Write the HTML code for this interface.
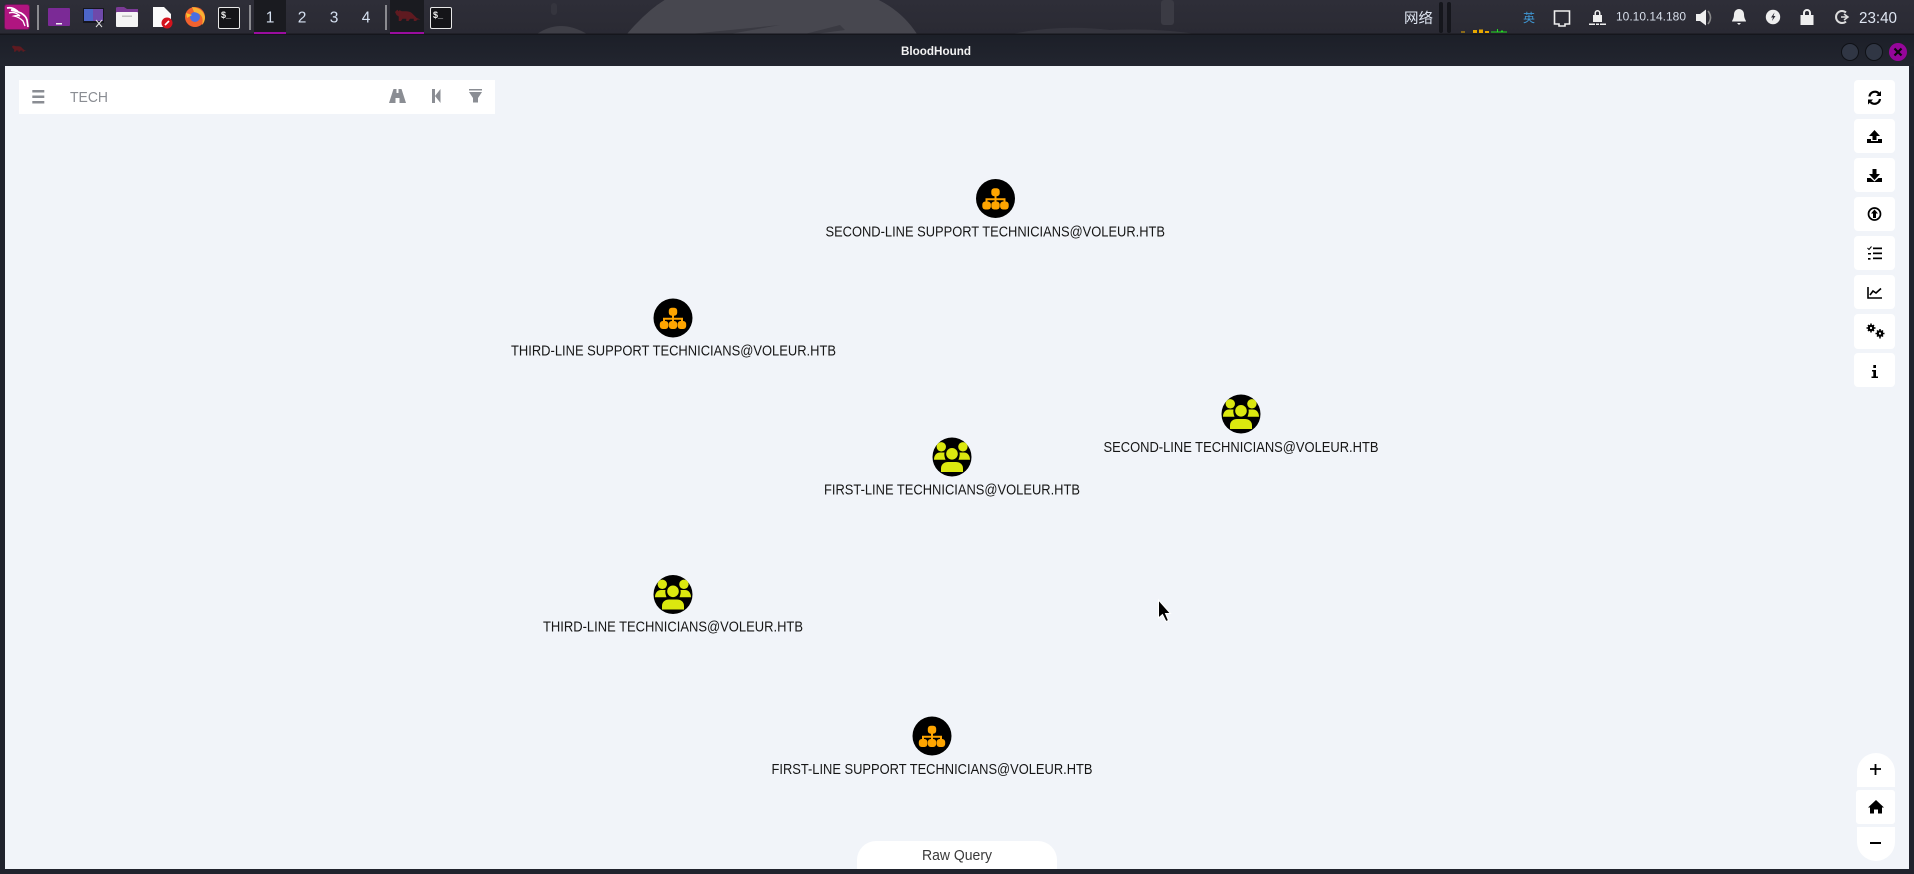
<!DOCTYPE html>
<html><head><meta charset="utf-8"><style>
html,body{margin:0;padding:0;background:#f1f4f9;width:1914px;height:874px;overflow:hidden}
svg{display:block}
text{font-family:"Liberation Sans","Noto Sans CJK SC",sans-serif}
.n{font-size:15px;fill:#161616}
.d{font-size:15.500px;fill:#d5e0f0}
</style></head><body>
<svg width="1914" height="874" viewBox="0 0 1914 874" xmlns="http://www.w3.org/2000/svg">
<defs>
<g id="org"><circle r="19.500" fill="#000"/><g fill="#ffa500"><rect x="-4.200" y="-10.300" width="8.400" height="8" rx="3"/><rect x="-13.200" y="3" width="8.600" height="8" rx="3"/><rect x="-4.200" y="3" width="8.400" height="8" rx="3"/><rect x="4.600" y="3" width="8.600" height="8" rx="3"/><path d="M-1-3H1V-.2H10V4H8V1.800H1V4H-1V1.800H-8V4H-10V-.2H-1z"/></g></g>
<g id="grp"><circle r="19.500" fill="#000"/><g fill="#dbe80f"><circle cx="-10.700" cy="-10.200" r="4.700"/><circle cx="10.900" cy="-10.200" r="4.700"/><path d="M-18 2.700C-18-1.500-15.500-4.500-12-4.500H-7.500C-8-2-7.500 0-6.500 2.700z"/><path d="M18 2.700C18-1.500 15.500-4.500 12-4.500H7.500C8-2 7.500 0 6.500 2.700z"/><circle cy="-3.200" r="5.800"/><path d="M-11 15V11.500C-11 7-7.500 5-4 5H4C7.500 5 11 7 11 11.500V15z"/></g></g>
<g id="bull" fill="#5f1a20"><path d="M0 4L3 1L5 3L6 1.500L9 3H15Q21 3 24 7L29 12L34 14H30L28 16H25V13H20L18 16H15V13H10L8 16H5V10L2 8z"/></g>
<linearGradient id="bar" x1="0" y1="0" x2="0" y2="1"><stop offset="0" stop-color="#2e2e38"/><stop offset="1" stop-color="#2a2a33"/></linearGradient>
<linearGradient id="tb" x1="0" y1="0" x2="0" y2="1"><stop offset="0" stop-color="#1c1f28"/><stop offset="1" stop-color="#22252f"/></linearGradient>
</defs>

<!-- top taskbar -->
<rect width="1914" height="35" fill="url(#bar)"/>
<path d="M627 34Q660 -5 690 -10H850Q895 0 917 34z" fill="#47474f"/>
<path d="M690 34L780 25L730 34zM805 34L840 25L845 30L815 34z" fill="#3a3a42"/>
<path d="M537 34Q560 18 587 34z" fill="#3f3f47"/>
<path d="M1012 34Q1060 24 1110 30Q1160 28 1195 34z" fill="#35353e"/>
<rect x="1161" y="0" width="13" height="25" rx="3" fill="#3b3b44"/>
<rect x="551" y="3" width="6" height="12" rx="3" fill="#35353e"/>
<rect y="33.500" width="1914" height="1.500" fill="#15161c"/>

<!-- kali icon -->
<rect x="4" y="4" width="26" height="26" rx="3" fill="#7a1462" opacity=".7"/>
<rect x="5" y="5" width="24" height="24" rx="2" fill="#b01580"/>
<path d="M7 8Q12 7 16 10L11 10Q16 11 21 13Q26 16 27 20L28 27" fill="none" stroke="#fff" stroke-width="1.700"/>
<path d="M9 13Q15 11 20 16Q17 15 14 16Q19 17 23 21L25 26" fill="none" stroke="#fff" stroke-width="1.300"/>
<rect x="37" y="5" width="2" height="25" fill="#8b8b90"/>
<!-- launcher icons -->
<rect x="48" y="8" width="22" height="18" rx="1" fill="#7b2a96"/><rect x="56" y="23" width="6" height="1.500" fill="#eee"/>
<rect x="83" y="8" width="21" height="15" fill="#16161e"/><rect x="84" y="9" width="19" height="12" fill="#4d66c8"/><rect x="93" y="9" width="10" height="12" fill="#7d3d9c" opacity=".7"/><path d="M96 20L102 27M102 20L96 27" stroke="#ddd" stroke-width="1"/>
<path d="M116 11V8Q116 7 118 7H124L127 9H138V14H116z" fill="#7b3a96"/><rect x="116" y="12" width="22" height="15" rx="1" fill="#f4f4f4"/><rect x="122" y="15.500" width="10" height="1.400" fill="#bbb"/>
<path d="M153 7H164L171 14V27H153z" fill="#fafafa"/><circle cx="167" cy="23" r="5.500" fill="#d3131c"/><path d="M165 25L169 21" stroke="#fff" stroke-width="1.600"/>
<circle cx="195" cy="17" r="10" fill="#f2622e"/><circle cx="195" cy="17" r="5" fill="#4a6ee0"/><path d="M192 7Q203 8 205 17Q205 22 202 25Q205 14 194 12z" fill="#f9b233"/><path d="M186 13L192 15L187 18z" fill="#fbc02d"/>
<rect x="218.500" y="7.500" width="21" height="21" rx="1.500" fill="#141418" stroke="#e8e8e8"/>
<text x="221" y="18" font-size="9" fill="#eee" font-weight="bold">$_</text>
<rect x="249" y="5" width="2" height="25" fill="#8b8b90"/>
<!-- desktops -->
<rect x="254" y="0" width="32" height="34" fill="#1a1b20"/><rect x="254" y="32" width="32" height="2" fill="#9a0d9f"/>
<text x="270" y="22.500" text-anchor="middle" class="d">1</text>
<text x="302" y="22.500" text-anchor="middle" class="d">2</text>
<text x="334" y="22.500" text-anchor="middle" class="d">3</text>
<text x="366" y="22.500" text-anchor="middle" class="d">4</text>
<rect x="385" y="5" width="2" height="25" fill="#8b8b90"/>
<rect x="390" y="0" width="34" height="34" fill="#1a1b20"/><rect x="390" y="32" width="34" height="2" fill="#9a0d9f"/>
<use href="#bull" transform="translate(395,9) scale(.75)"/>
<rect x="430.500" y="7.500" width="21" height="21" rx="1.500" fill="#141418" stroke="#e8e8e8"/>
<text x="433" y="18" font-size="9" fill="#eee" font-weight="bold">$_</text>

<!-- tray -->
<text x="1404" y="23" font-size="14" fill="#dfe6f2" textLength="29" lengthAdjust="spacingAndGlyphs">网络</text>
<rect x="1439" y="2" width="4" height="31" rx="2" fill="#15161c"/>
<rect x="1447" y="2" width="4" height="31" rx="2" fill="#15161c"/>
<g fill="#e8a800"><rect x="1461" y="31.500" width="4" height="1"/><rect x="1473" y="30" width="4" height="3"/><rect x="1479" y="29.500" width="4" height="3.500"/><rect x="1485" y="31" width="4" height="2"/></g>
<path d="M1491 32.500H1507V31.500H1503V30.500H1501V31.500H1498V29H1497V31.500H1491z" fill="#22dd22"/>
<text x="1523" y="22" font-size="12" fill="#3f97d3">英</text>
<path d="M1554.500 11H1569.500V24H1565V26H1559V24H1554.500z" fill="none" stroke="#eee" stroke-width="1.600"/>
<path d="M1594.500 15V13a3 3 0 0 1 6 0V15H1602V22H1593V15zM1596 15H1599V13a1.500 1.500 0 0 0-3 0z" fill="#eee" fill-rule="evenodd"/>
<path d="M1589 23.500h6v1.500h-6zM1596 23.500h3v1.500h-3zM1600 23.500h6v1.500h-6z" fill="#eee"/>
<text x="1616" y="20.500" font-size="11.500" fill="#d8dfeb" textLength="70" lengthAdjust="spacingAndGlyphs">10.10.14.180</text>
<path d="M1696 14H1700L1706 9.500V25.500L1700 21H1696z" fill="#eee"/><path d="M1708 11Q1713 17.500 1708 24" fill="none" stroke="#888" stroke-width="1.600"/>
<path d="M1739 9a5 5 0 0 1 5 5c0 5 2 6 2 7.500h-14c0-1.500 2-2.500 2-7.500a5 5 0 0 1 5-5zM1737 23h4l-2 2z" fill="#eee"/>
<circle cx="1773" cy="17" r="7.200" fill="#eee"/><path d="M1774.500 12.500L1771 17.500H1773L1772 21L1775.500 16H1773.500z" fill="#2b2b35"/>
<path d="M1807 9a4 4 0 0 1 4 4v2h2.500v10h-13V15h2.500v-2a4 4 0 0 1 4-4zm-2 6h4v-2a2 2 0 0 0-4 0z" fill="#eee" fill-rule="evenodd"/>
<path d="M1848 17H1841M1844 14L1848 17L1844 20" fill="none" stroke="#ddd" stroke-width="1.500"/><path d="M1846 12.500A6 6 0 1 0 1846 21.500" fill="none" stroke="#ddd" stroke-width="2"/>
<text x="1859" y="23" font-size="15.500" fill="#dfe6f2" textLength="38" lengthAdjust="spacingAndGlyphs">23:40</text>

<!-- window frame -->
<rect y="35" width="1914" height="31" fill="url(#tb)"/>
<rect y="66" width="5" height="808" fill="#20232d"/>
<rect x="1909" y="66" width="5" height="808" fill="#20232d"/>
<rect y="869" width="1914" height="5" fill="#20232d"/>
<use href="#bull" transform="translate(12,45) scale(.42)"/>
<text x="936" y="55" text-anchor="middle" font-size="11.500" font-weight="bold" fill="#f2f2f2" textLength="70" lengthAdjust="spacingAndGlyphs">BloodHound</text>
<circle cx="1850" cy="52" r="8.500" fill="#303644" stroke="#0f1116"/>
<circle cx="1874" cy="52" r="8.500" fill="#303644" stroke="#0f1116"/>
<circle cx="1898" cy="52" r="9" fill="#96069a"/>
<path d="M1894.500 48.500L1901.500 55.500M1901.500 48.500L1894.500 55.500" stroke="#0a0a0a" stroke-width="2.200"/>

<!-- search bar -->
<rect x="19" y="80" width="476" height="34" fill="#fff"/>
<g fill="#8a8d93"><rect x="32.300" y="90" width="12" height="2.500"/><rect x="32.300" y="95.500" width="12" height="2.500"/><rect x="32.300" y="101" width="12" height="2.500"/></g>
<text x="70" y="102" font-size="15" fill="#8a8d93" textLength="38" lengthAdjust="spacingAndGlyphs">TECH</text>
<path d="M389 103L393.500 89H396.500V93H398.500V89H401.500L406 103H399.500V98H395.500V103z" fill="#8a8d93"/>
<path d="M432 89H435V103H432zM440.500 89V103L435 96z" fill="#8a8d93"/>
<path d="M469 89H482V90.500H469zM469 92H482L478 98V102.500H473V98z" fill="#8a8d93"/>

<!-- right toolbar -->
<g fill="#fff"><rect x="1854" y="80" width="41" height="34" rx="4"/><rect x="1854" y="119" width="41" height="34" rx="4"/><rect x="1854" y="158" width="41" height="34" rx="4"/><rect x="1854" y="197" width="41" height="34" rx="4"/><rect x="1854" y="236" width="41" height="34" rx="4"/><rect x="1854" y="275" width="41" height="34" rx="4"/><rect x="1854" y="314" width="41" height="35" rx="4"/><rect x="1854" y="353" width="41" height="34" rx="4"/></g>
<!-- sync -->
<path d="M1869.500 96.500A5.500 5.500 0 0 1 1879 93.500M1880 99A5.500 5.500 0 0 1 1870.500 102" fill="none" stroke="#000" stroke-width="2.200"/>
<path d="M1881 91V96H1876zM1868 104.500V99.500H1873z" fill="#000"/>
<!-- upload -->
<path d="M1874.500 130L1880 136H1876.500V140H1872.500V136H1869zM1867 139H1871V141H1878V139H1882V143H1867z" fill="#000"/>
<!-- download -->
<path d="M1872.500 169H1876.500V174H1880L1874.500 180L1869 174H1872.500zM1867 178H1870.500L1874.500 181.500L1878.500 178H1882V182H1867z" fill="#000"/>
<!-- circle up -->
<circle cx="1874.500" cy="214" r="6" fill="none" stroke="#000" stroke-width="1.700"/>
<path d="M1874.500 209.500L1878 213.500H1876V218H1873V213.500H1871z" fill="#000"/>
<!-- list -->
<g fill="#000"><rect x="1873" y="247.500" width="9" height="1.700"/><rect x="1873" y="252.500" width="9" height="1.700"/><rect x="1873" y="257.500" width="9" height="1.700"/><rect x="1868" y="253" width="3" height="1.500"/><rect x="1868" y="258" width="2.500" height="1.700"/></g>
<path d="M1867.500 248L1869 249.500L1871.500 246.500" fill="none" stroke="#000" stroke-width="1"/>
<!-- chart -->
<path d="M1868 287V298H1882" fill="none" stroke="#000" stroke-width="1.600"/>
<path d="M1870 295L1873 291L1876 293L1881 288.500" fill="none" stroke="#000" stroke-width="1.600"/>
<!-- gears -->
<g stroke="#000" stroke-width="1.500"><path d="M1871 323.500V332.500M1866.500 328H1875.500M1868 325L1874 331M1874 325L1868 331M1880 329V338.500M1875.500 333.500H1884.500M1877 330.500L1883 336.500M1883 330.500L1877 336.500"/></g>
<circle cx="1871" cy="328" r="3.300" fill="#000"/><circle cx="1880" cy="333.500" r="3.300" fill="#000"/>
<circle cx="1871" cy="328" r="1.100" fill="#fff"/><circle cx="1880" cy="333.500" r="1.100" fill="#fff"/>
<!-- info -->
<path d="M1873.300 365H1876V368H1873.300zM1872 370H1876V376.500H1878V378H1871.500V376.500H1873.300V371.500H1872z" fill="#000"/>

<!-- zoom controls -->
<path d="M1857 787V772A19 19 0 0 1 1895 772V787z" fill="#fff"/>
<rect x="1856" y="790" width="39" height="34" rx="3" fill="#fff"/>
<path d="M1857 827H1895V842A19 19 0 0 1 1857 842z" fill="#fff"/>
<path d="M1870 769H1881M1875.500 764V775" stroke="#000" stroke-width="1.800"/>
<path d="M1876 800L1884 807.500H1882V813.500H1878V809.500H1874V813.500H1870V807.500H1868z" fill="#000"/>
<rect x="1870" y="842" width="11" height="2" fill="#000"/>

<!-- raw query -->
<path d="M857 869V860A19 19 0 0 1 876 841H1038A19 19 0 0 1 1057 860V869z" fill="#fff"/>
<text x="957" y="860" text-anchor="middle" font-size="14.500" fill="#3a3a3a" textLength="70" lengthAdjust="spacingAndGlyphs">Raw Query</text>

<!-- graph nodes -->
<use href="#org" x="995.500" y="198.500"/>
<text class="n" x="825.500" y="236.500" textLength="339.500" lengthAdjust="spacingAndGlyphs">SECOND-LINE SUPPORT TECHNICIANS@VOLEUR.HTB</text>
<use href="#org" x="673" y="318"/>
<text class="n" x="511" y="355.500" textLength="325" lengthAdjust="spacingAndGlyphs">THIRD-LINE SUPPORT TECHNICIANS@VOLEUR.HTB</text>
<use href="#grp" x="1241" y="414"/>
<text class="n" x="1103.500" y="452" textLength="275" lengthAdjust="spacingAndGlyphs">SECOND-LINE TECHNICIANS@VOLEUR.HTB</text>
<use href="#grp" x="952" y="457"/>
<text class="n" x="824" y="494.500" textLength="256" lengthAdjust="spacingAndGlyphs">FIRST-LINE TECHNICIANS@VOLEUR.HTB</text>
<use href="#grp" x="673" y="594.500"/>
<text class="n" x="543" y="631.500" textLength="260" lengthAdjust="spacingAndGlyphs">THIRD-LINE TECHNICIANS@VOLEUR.HTB</text>
<use href="#org" x="932" y="736"/>
<text class="n" x="771.500" y="774" textLength="321" lengthAdjust="spacingAndGlyphs">FIRST-LINE SUPPORT TECHNICIANS@VOLEUR.HTB</text>

<!-- cursor -->
<path d="M1158.500 600V618L1162.500 614.500L1166 621.500L1168.500 620.500L1165.500 613.500H1170.500z" fill="#000" stroke="#fff" stroke-width="1"/>
</svg>
</body></html>
